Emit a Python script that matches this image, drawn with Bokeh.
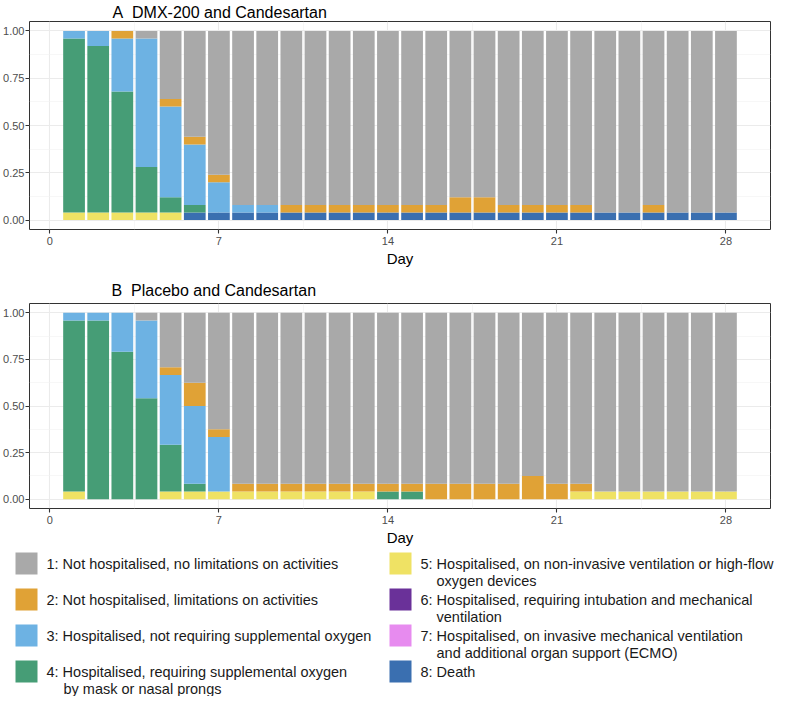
from bokeh.plotting import figure
from bokeh.models import Range1d, FixedTicker, NumeralTickFormatter, ColumnDataSource, Title
from bokeh.layouts import column
from bokeh.core.properties import value
from bokeh.embed import file_html
from bokeh.resources import INLINE

FONT = "Liberation Sans"

days = list(range(1, 29))

# ordinal scale categories (1 = best, 8 = death)
categories = ["1", "2", "3", "4", "5", "6", "7", "8"]
category_labels = [
    ["1: Not hospitalised, no limitations on activities"],
    ["2: Not hospitalised, limitations on activities"],
    ["3: Hospitalised, not requiring supplemental oxygen"],
    ["4: Hospitalised, requiring supplemental oxygen", "by mask or nasal prongs"],
    ["5: Hospitalised, on non-invasive ventilation or high-flow", "oxygen devices"],
    ["6: Hospitalised, requiring intubation and mechanical", "ventilation"],
    ["7: Hospitalised, on invasive mechanical ventilation", "and additional organ support (ECMO)"],
    ["8: Death"],
]
colors = ["#A9A9A9", "#E0A236", "#6DB2E3", "#469D76", "#EFE264", "#6A3199", "#E78BEF", "#3A6FB0"]

# Panel A: DMX-200 and Candesartan (n = 25), counts per day 1..28
n_a = 25
a_cat1 = [0, 0, 0, 1, 9, 14, 19, 23, 23, 23, 23, 23, 23, 23, 23, 23, 22, 22, 23, 23, 23, 23, 24, 24, 23, 24, 24, 24]
a_cat2 = [0, 0, 1, 0, 1, 1, 1, 0, 0, 1, 1, 1, 1, 1, 1, 1, 2, 2, 1, 1, 1, 1, 0, 0, 1, 0, 0, 0]
a_cat3 = [1, 2, 7, 17, 12, 8, 4, 1, 1, 0, 0, 0, 0, 0, 0, 0, 0, 0, 0, 0, 0, 0, 0, 0, 0, 0, 0, 0]
a_cat4 = [23, 22, 16, 6, 2, 1, 0, 0, 0, 0, 0, 0, 0, 0, 0, 0, 0, 0, 0, 0, 0, 0, 0, 0, 0, 0, 0, 0]
a_cat5 = [1, 1, 1, 1, 1, 0, 0, 0, 0, 0, 0, 0, 0, 0, 0, 0, 0, 0, 0, 0, 0, 0, 0, 0, 0, 0, 0, 0]
a_cat6 = [0] * 28
a_cat7 = [0] * 28
a_cat8 = [0, 0, 0, 0, 0, 1, 1, 1, 1, 1, 1, 1, 1, 1, 1, 1, 1, 1, 1, 1, 1, 1, 1, 1, 1, 1, 1, 1]

# Panel B: Placebo and Candesartan (n = 24)
n_b = 24
b_cat1 = [0, 0, 0, 1, 7, 9, 15, 22, 22, 22, 22, 22, 22, 22, 22, 22, 22, 22, 22, 21, 22, 22, 23, 23, 23, 23, 23, 23]
b_cat2 = [0, 0, 0, 0, 1, 3, 1, 1, 1, 1, 1, 1, 1, 1, 1, 2, 2, 2, 2, 3, 2, 1, 0, 0, 0, 0, 0, 0]
b_cat3 = [1, 1, 5, 10, 9, 10, 7, 0, 0, 0, 0, 0, 0, 0, 0, 0, 0, 0, 0, 0, 0, 0, 0, 0, 0, 0, 0, 0]
b_cat4 = [22, 23, 19, 13, 6, 1, 0, 0, 0, 0, 0, 0, 0, 1, 1, 0, 0, 0, 0, 0, 0, 0, 0, 0, 0, 0, 0, 0]
b_cat5 = [1, 0, 0, 0, 1, 1, 1, 1, 1, 1, 1, 1, 1, 0, 0, 0, 0, 0, 0, 0, 0, 1, 1, 1, 1, 1, 1, 1]
b_cat6 = [0] * 28
b_cat7 = [0] * 28
b_cat8 = [0] * 28

x_ticks = [0, 7, 14, 21, 28]
x_minor = [3.5, 10.5, 17.5, 24.5]
y_ticks = [0, 0.25, 0.5, 0.75, 1.0]
y_minor = [0.125, 0.375, 0.625, 0.875]


def panel(title, series, n, height, b_top, b_bottom, b_left, t_offset, t_standoff):
    p = figure(width=779, height=height, x_range=Range1d(-0.845, 29.845),
               y_range=Range1d(-0.05, 1.05), output_backend="svg",
               toolbar_location=None, frame_align=False,
               min_border_top=b_top, min_border_bottom=b_bottom,
               min_border_left=b_left, min_border_right=9)
    data = {"day": days}
    for cat, vals in zip(categories, series):
        data["c" + cat] = [v / n for v in vals]
    src = ColumnDataSource(data)
    # stack from worst (8, bottom) to best (1, top)
    order = list(reversed(categories))
    p.vbar_stack(["c" + c for c in order], x="day", width=0.9, source=src,
                 fill_color=[colors[int(c) - 1] for c in order], line_color=None)

    p.add_layout(Title(text=title, text_font=FONT, text_font_size="16px",
                       text_font_style="normal", text_color="#000000",
                       align="left", offset=t_offset, standoff=t_standoff), "above")

    p.outline_line_color = "#333333"
    p.outline_line_width = 1
    p.background_fill_color = "white"
    p.border_fill_color = "white"

    xt = FixedTicker(ticks=x_ticks, minor_ticks=x_minor)
    yt = FixedTicker(ticks=y_ticks, minor_ticks=y_minor)
    p.xaxis.ticker = xt
    p.yaxis.ticker = yt
    p.xgrid.ticker = xt
    p.ygrid.ticker = yt
    p.yaxis.formatter = NumeralTickFormatter(format="0.00")
    for g in (p.xgrid, p.ygrid):
        g.grid_line_color = "#EBEBEB"
        g.grid_line_width = 1.1
        g.minor_grid_line_color = "#F1F1F1"
        g.minor_grid_line_width = 0.6

    for ax in (p.xaxis, p.yaxis):
        ax.axis_line_color = None
        ax.major_tick_line_color = "#333333"
        ax.major_tick_line_width = 1.1
        ax.major_tick_out = 4
        ax.major_tick_in = 0
        ax.minor_tick_line_color = None
        ax.major_label_text_font = FONT
        ax.major_label_text_font_size = "11px"
        ax.major_label_text_color = "#4D4D4D"
    p.yaxis.major_label_standoff = 1
    p.xaxis.major_label_standoff = 3
    p.xaxis.axis_label = "Day"
    p.xaxis.axis_label_text_font = FONT
    p.xaxis.axis_label_text_font_size = "15px"
    p.xaxis.axis_label_text_font_style = "normal"
    p.xaxis.axis_label_text_color = "#000000"
    p.xaxis.axis_label_standoff = 2
    return p


pa = panel("A\u00a0 DMX-200 and Candesartan",
           [a_cat1, a_cat2, a_cat3, a_cat4, a_cat5, a_cat6, a_cat7, a_cat8],
           n_a, 272, 21, 43, 25, 83, 1)
pb = panel("B\u00a0 Placebo and Candesartan",
           [b_cat1, b_cat2, b_cat3, b_cat4, b_cat5, b_cat6, b_cat7, b_cat8],
           n_b, 276, 31, 40, 29, 82, 9)

# legend drawn as its own small figure whose data units are pixels
leg = figure(width=779, height=148, x_range=Range1d(8, 787), y_range=Range1d(704, 556),
             output_backend="svg", toolbar_location=None, min_border=0,
             frame_align=False, x_axis_type=None, y_axis_type=None)
leg.grid.visible = False
leg.outline_line_color = None
leg.background_fill_color = "white"
leg.border_fill_color = "white"

key_x = [34, 408]
text_x = [54, 428]
indent = [17, 16]
row0, row_step, line_step = 571, 36, 17
kx, ky, kc = [], [], []
tx, ty, tt = [], [], []
for i, (cat, lines) in enumerate(zip(categories, category_labels)):
    col, row = divmod(i, 4)
    yc = row0 + row_step * row
    kx.append(key_x[col]); ky.append(yc); kc.append(colors[i])
    for j, line in enumerate(lines):
        tx.append(text_x[col] + (indent[col] if j else 0))
        ty.append(yc + line_step * j)
        tt.append(line)
leg.rect(x=kx, y=ky, width=22, height=22, fill_color=kc, line_color=None)
leg.text(x=tx, y=ty, text=tt, text_font=value(FONT), text_font_size="14.5px",
         text_baseline="middle", text_align="left", text_color="#1A1A1A")

layout = column(pa, pb, leg, spacing=0)
open("out.html", "w").write(file_html(layout, INLINE))
